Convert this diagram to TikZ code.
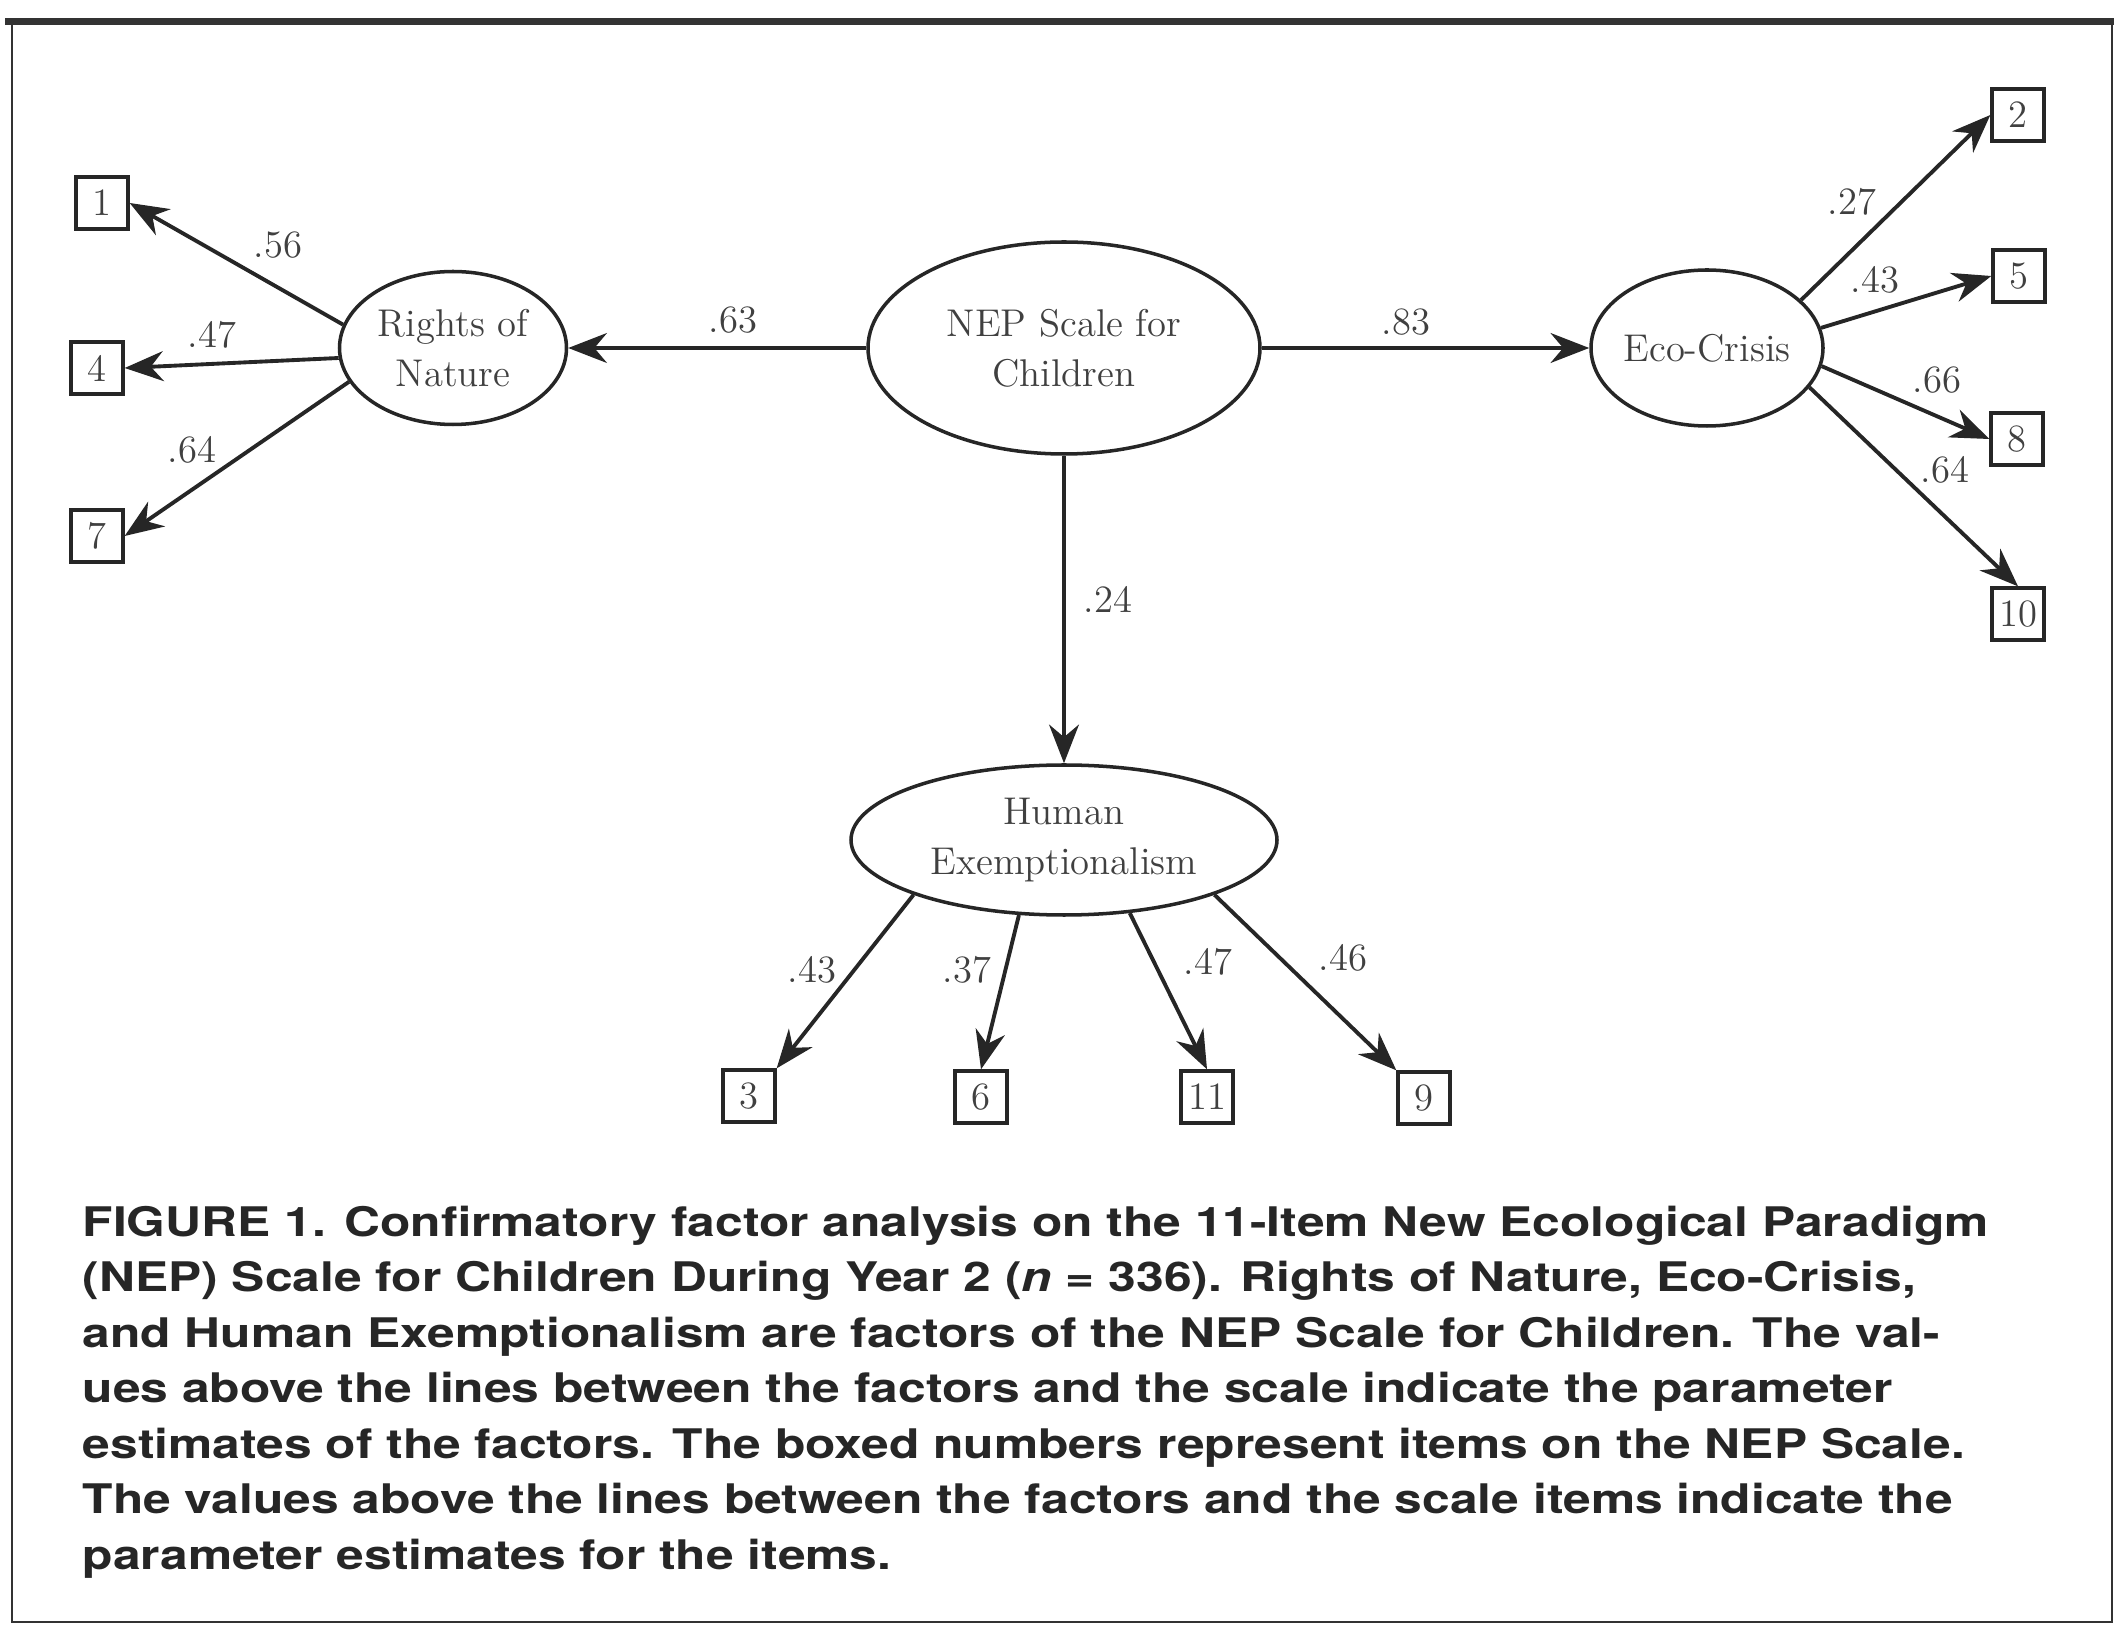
\documentclass[tikz,border=0pt]{standalone}
\usepackage{fontspec}
\newfontfamily\captionfont[FakeStretch=1.22]{TeX Gyre Heros}
\usetikzlibrary{arrows.meta,shapes.geometric}

\begin{document}
\begin{tikzpicture}[
  factor/.style={draw=black!85, line width=1pt, ellipse, inner sep=0pt, align=center, text=black!75, font=\fontsize{11}{14.2}\selectfont},
  item/.style={draw=black!85, line width=0.95pt, minimum size=0.52cm, inner sep=0pt, text=black!75, font=\fontsize{11}{13}\selectfont},
  weight/.style={text=black!75, inner sep=0pt, font=\fontsize{11}{13}\selectfont},
  path/.style={draw=black!85, line width=1.1pt, -{Stealth[length=11pt, width=8.5pt]}}
]
\useasboundingbox (0,0) rectangle (21.24,-16.26);

% frame
\draw[line width=0.8pt, black!80] (0.12,-0.2) -- (0.12,-16.22) -- (21.12,-16.22) -- (21.12,-0.2);
\draw[line width=2pt, black!80] (0.05,-0.215) -- (21.14,-0.215);

% factors
\node[factor, minimum width=3.92cm, minimum height=2.12cm] (nep scale) at (10.64,-3.48) {NEP Scale for\\Children};
\node[factor, minimum width=2.27cm, minimum height=1.53cm] (rights of nature) at (4.53,-3.48) {Rights of\\Nature};
\node[factor, minimum width=2.32cm, minimum height=1.56cm, inner xsep=-3pt] (eco crisis) at (17.07,-3.48) {Eco-Crisis};
\node[factor, minimum width=4.26cm, minimum height=1.50cm] (human exemptionalism) at (10.64,-8.40) {Human\\Exemptionalism};

% items
\node[item] (item 1) at (1.02,-2.03) {1};
\node[item] (item 4) at (0.97,-3.68) {4};
\node[item] (item 7) at (0.97,-5.36) {7};
\node[item] (item 2) at (20.18,-1.15) {2};
\node[item] (item 5) at (20.19,-2.76) {5};
\node[item] (item 8) at (20.17,-4.39) {8};
\node[item] (item 10) at (20.18,-6.14) {10};
\node[item] (item 3) at (7.49,-10.96) {3};
\node[item] (item 6) at (9.81,-10.97) {6};
\node[item] (item 11) at (12.07,-10.97) {11};
\node[item] (item 9) at (14.24,-10.98) {9};

% factor paths
\draw[path] (nep scale) -- (rights of nature);
\draw[path] (nep scale) -- (eco crisis);
\draw[path] (nep scale) -- (human exemptionalism);
\node[weight] (w63) at (7.33,-3.20) {.63};
\node[weight] (w83) at (14.06,-3.22) {.83};
\node[weight] (w24) at (11.08,-5.99) {.24};

% rights of nature items
\draw[path] (rights of nature.168) -- (item 1.east);
\draw[path] (rights of nature.185) -- (item 4.east);
\draw[path] (rights of nature.198) -- (item 7.east);
\node[weight] (w56) at (2.78,-2.45) {.56};
\node[weight] (w47a) at (2.12,-3.35) {.47};
\node[weight] (w64a) at (1.92,-4.50) {.64};

% eco-crisis items
\draw[path] (eco crisis.27) -- (item 2.west);
\draw[path] (eco crisis.10) -- (item 5.west);
\draw[path] (eco crisis.-9) -- (item 8.west);
\draw[path] (eco crisis.-21) -- (item 10.north);
\node[weight] (w27) at (18.52,-2.02) {.27};
\node[weight] (w43a) at (18.75,-2.80) {.43};
\node[weight] (w66) at (19.37,-3.80) {.66};
\node[weight] (w64b) at (19.45,-4.70) {.64};

% human exemptionalism items
\draw[path] (human exemptionalism.200) -- (item 3.north east);
\draw[path] (human exemptionalism.239) -- (item 6.north);
\draw[path] (human exemptionalism.-48) -- (item 11.north);
\draw[path] (human exemptionalism.-20) -- (item 9.north west);
\node[weight] (w43b) at (8.12,-9.70) {.43};
\node[weight] (w37) at (9.67,-9.70) {.37};
\node[weight] (w47b) at (12.08,-9.62) {.47};
\node[weight] (w46) at (13.43,-9.58) {.46};

% caption
\node[anchor=north west, inner sep=0pt, align=left, text=black!85, font=\captionfont\bfseries\fontsize{11.6}{15.8}\selectfont] (caption) at (0.82,-12.05) {FIGURE 1. Confirmatory factor analysis on the 11-Item New Ecological Paradigm\\
(NEP) Scale for Children During Year 2 (\textit{n} = 336). Rights of Nature, Eco-Crisis,\\
and Human Exemptionalism are factors of the NEP Scale for Children. The val-\\
ues above the lines between the factors and the scale indicate the parameter\\
estimates of the factors. The boxed numbers represent items on the NEP Scale.\\
The values above the lines between the factors and the scale items indicate the\\
parameter estimates for the items.};
\end{tikzpicture}
\end{document}
